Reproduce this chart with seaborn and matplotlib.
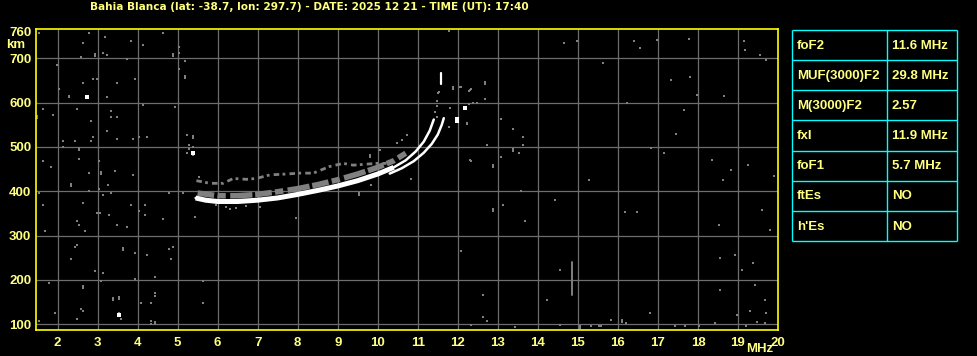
import matplotlib
matplotlib.use("Agg")
import matplotlib.pyplot as plt
import seaborn as sns
import pandas as pd

# ---------------- data ----------------
title_text = "Bahia Blanca (lat: -38.7, lon: 297.7) - DATE: 2025 12 21 - TIME (UT): 17:40"
freq_ticks = list(range(2, 21))
height_ticks = [100, 200, 300, 400, 500, 600, 700, 760]
grid_freqs = list(range(2, 20))
grid_heights = [100, 200, 300, 400, 500, 600, 700]

table_params = ["foF2", "MUF(3000)F2", "M(3000)F2", "fxI", "foF1", "ftEs", "h'Es"]
table_values = ["11.6 MHz", "29.8 MHz", "2.57", "11.9 MHz", "5.7 MHz", "NO", "NO"]

# O-mode trace (white)
o_freq = [5.45, 5.7, 6.0, 6.5, 7.0, 7.5, 8.0, 8.5, 9.0, 9.5, 10.0, 10.4, 10.7,
          10.95, 11.15, 11.3, 11.4]
o_height = [385, 380, 377, 377, 380, 385, 393, 402, 412, 424, 439, 454, 470,
            490, 512, 537, 562]
# X-mode trace (white)
x_freq = [10.3, 10.6, 10.9, 11.15, 11.35, 11.5, 11.6, 11.65]
x_height = [440, 452, 468, 487, 507, 528, 550, 565]
# top of O trace (white dash)
o_top_freq = [11.57, 11.57]
o_top_height = [641, 667]
# spread echo band just above the trace (grey)
spread_freq = [5.5, 6.0, 6.5, 7.0, 7.5, 8.0, 8.5, 9.0, 9.5, 10.0, 10.4, 10.7]
spread_height = [396, 390, 390, 393, 399, 406, 415, 426, 439, 454, 469, 486]
# weaker upper echo (grey, patchy)
echo_freq = [5.47, 5.81, 6.14, 6.39, 6.72, 6.97, 7.3, 7.72, 8.05, 8.39, 8.8,
             9.14, 9.39, 9.97, 10.22]
echo_height = [424, 418, 418, 429, 427, 429, 437, 439, 441, 441, 456,
               463, 459, 463, 463]
# vertical interference streak near 14.85 MHz
streak_freq = [14.85, 14.85]
streak_height = [167, 241]

# scattered grey noise dots
noise_freq = [
    1.53, 2.78, 3.18, 2.63, 3.83, 4.13, 4.63, 2.93, 2.93, 3.13, 3.23, 2.58, 3.73,
    4.88, 4.88, 5.03, 5.03, 5.18, 5.03, 5.18, 5.18, 1.98, 2.63, 2.88, 2.98, 3.48,
    3.93, 2.03, 2.28, 2.28, 3.23, 1.63, 1.48, 1.48, 1.88, 2.48, 3.33, 3.33, 3.48,
    2.83, 4.13, 4.93, 3.23, 2.88, 2.13, 2.43, 2.83, 3.48, 3.88, 4.03, 4.23, 2.53,
    2.53, 2.13, 5.23, 5.38, 5.38, 5.28, 5.28, 5.38, 5.23, 5.38, 1.63, 1.83, 2.53,
    3.03, 2.78, 3.08, 3.08, 3.43, 3.88, 5.53,
    2.33, 2.33, 1.53, 3.03, 2.78, 3.26, 3.13, 3.33, 1.63, 2.63, 2.99, 3.05, 3.28,
    3.83, 4.18, 4.03, 4.18, 4.78, 5.13, 5.43, 2.48, 2.53, 2.68, 1.68, 3.48, 3.73,
    4.63, 2.48, 2.43, 3.63, 3.63, 2.33, 3.93, 4.23, 4.78, 4.88, 4.83, 2.93, 3.13,
    3.93, 4.43, 1.78, 2.63, 2.63, 3.08, 3.38, 3.38, 3.53, 3.53, 4.43, 4.43, 4.08,
    4.33, 5.63, 5.63, 1.93, 2.58, 2.63, 3.53, 3.58, 1.53, 2.48, 4.33, 4.43, 4.43,
    4.33,
    11.77, 12.67, 12.67, 11.87, 11.87, 12.07, 12.32, 12.27, 12.67, 12.27, 12.37,
    12.47, 12.22, 13.07, 13.37, 13.62, 12.72, 13.37, 13.37, 13.52, 13.07, 13.62,
    12.32, 12.87, 12.87, 11.77, 10.82, 9.82, 9.52, 9.52, 7.97, 13.57, 12.87,
    12.87, 13.12, 13.67, 12.07, 12.62, 12.62, 12.72, 12.32, 13.42,
    10.47, 10.72, 10.6, 9.8, 10.05, 11.47, 11.5, 11.8, 11.88, 12.05, 12.3, 12.22,
    12.3, 11.47, 11.52, 11.47, 11.42, 9.8,
    14.65, 14.97, 16.39, 16.54, 16.97, 17.77, 19.14, 19.17, 19.54, 19.69, 15.62,
    17.32, 17.79, 17.97, 16.24, 17.64, 18.64, 16.82, 17.14, 17.44, 18.34, 18.62,
    18.82, 19.24, 19.91, 16.19, 16.47, 15.29, 14.42, 18.52, 19.59, 19.79, 18.54,
    18.92, 19.09, 19.37, 19.42, 19.67, 18.54, 18.97, 19.47, 14.55, 14.22, 15.84,
    15.54, 14.55,
    15.05, 15.05, 15.32, 15.57, 16.11, 16.11, 16.21, 16.81, 17.42, 17.67, 18.02,
    18.42, 19.21, 19.31, 19.71, 19.67,
    6.2, 6.45, 6.7, 7.05, 5.95, 6.3,
]
noise_height = [
    757, 757, 749, 735, 739, 730, 757, 710, 705, 712, 708, 703, 698,
    710, 706, 726, 712, 694, 676, 660, 655, 685, 644, 653, 653, 644,
    653, 631, 616, 612, 613, 586, 571, 566, 572, 586, 581, 568, 568,
    559, 595, 590, 536, 523, 514, 514, 514, 518, 518, 523, 523, 498,
    494, 500, 527, 525, 521, 504, 496, 500, 486, 483, 468, 455, 473,
    468, 441, 443, 438, 446, 437, 432,
    417, 412, 396, 405, 401, 414, 392, 396, 369, 374, 351, 351, 347,
    369, 369, 356, 347, 396, 396, 342, 333, 324, 310, 310, 324, 320,
    338, 279, 274, 273, 268, 247, 261, 256, 270, 274, 247, 220, 216,
    202, 207, 193, 187, 182, 198, 160, 155, 162, 157, 171, 163, 148,
    148, 198, 148, 125, 135, 130, 125, 112, 107, 112, 107, 106, 101,
    100,
    762, 647, 642, 636, 631, 635, 631, 626, 608, 597, 599,
    599, 552, 563, 541, 523, 504, 495, 490, 486, 477, 504,
    468, 459, 455, 545, 428, 414, 396, 392, 339, 401, 360,
    355, 369, 333, 265, 166, 117, 107, 98, 94,
    508, 527, 516, 478, 493, 568, 621, 587, 632, 636, 628, 553,
    471, 604, 623, 592, 579, 482,
    735, 739, 739, 723, 741, 744, 739, 719, 707, 696, 690,
    651, 658, 617, 599, 583, 615, 498, 486, 529, 471, 426,
    448, 459, 435, 353, 353, 426, 380, 324, 358, 313, 250,
    256, 222, 238, 189, 155, 177, 121, 105, 223, 155, 110,
    96, 98,
    92, 97, 95, 96, 106, 110, 104, 126, 95, 95, 95,
    104, 95, 131, 126, 104,
    365, 362, 366, 364, 369, 360,
]
# a few bright (white) dots
white_freq = [2.73, 5.38, 3.53, 12.17, 11.97, 11.97]
white_height = [613, 486, 121, 587, 563, 558]

# ---------------- style ----------------
sns.set_style("dark", {"axes.facecolor": "black", "figure.facecolor": "black"})
plt.rcParams["font.family"] = ["Liberation Sans", "DejaVu Sans"]
plt.rcParams["font.weight"] = "bold"

TXT = "#FFFF80"
YEL = "#FFFF00"
GRID = "#6E6E6E"
GREY = "#808080"
CYAN = "#00FFFF"

W, H = 978, 356
fig = plt.figure(figsize=(W / 100, H / 100), dpi=100, facecolor="black")
L, R, T, B = 35.5, 778.0, 29.3, 330.0
ax = fig.add_axes([L / W, 1 - B / H, (R - L) / W, (B - T) / H])
ax.set_facecolor("black")
ax.grid(False)

ymin, ymax = 87.1, 765.5
ax.set_xlim(1.45, 20.0)
ax.set_ylim(ymin, ymax)

# grid
ax.vlines(grid_freqs, ymin, ymax, color=GRID, lw=0.9, zorder=0)
ax.hlines(grid_heights, 1.45, 20.0, color=GRID, lw=0.9, zorder=0)

# noise
sns.scatterplot(x=noise_freq, y=noise_height, ax=ax, marker="s", s=4,
                color=GREY, linewidth=0, zorder=2, legend=False)
sns.lineplot(x=streak_freq, y=streak_height, ax=ax, color=GREY, lw=1.4,
             zorder=2, sort=False, estimator=None, legend=False)

# echoes
sns.lineplot(x=echo_freq, y=echo_height, ax=ax, color=GREY, lw=2.0,
             zorder=3, sort=False, estimator=None, legend=False,
             linestyle=(0, (2.0, 1.2, 1.0, 1.5)))
sns.lineplot(x=spread_freq, y=spread_height, ax=ax, color=GREY, lw=4.0,
             zorder=3, sort=False, estimator=None, legend=False,
             linestyle=(0, (3.0, 0.6, 1.5, 0.8, 4.0, 0.5)))

# main traces
n_low = 12
sns.lineplot(x=o_freq[:n_low], y=o_height[:n_low], ax=ax, color="white", lw=3.6,
             zorder=4, sort=False, estimator=None, legend=False,
             solid_capstyle="butt")
sns.lineplot(x=o_freq, y=o_height, ax=ax, color="white", lw=1.8,
             zorder=4, sort=False, estimator=None, legend=False)
sns.lineplot(x=x_freq, y=x_height, ax=ax, color="white", lw=1.8,
             zorder=4, sort=False, estimator=None, legend=False)
sns.lineplot(x=o_top_freq, y=o_top_height, ax=ax, color="white", lw=1.6,
             zorder=4, sort=False, estimator=None, legend=False)
sns.scatterplot(x=white_freq, y=white_height, ax=ax, marker="s", s=5,
                color="white", linewidth=0, zorder=5, legend=False)

# ticks and spines
ax.set_xticks(freq_ticks)
ax.set_xticklabels([str(v) for v in freq_ticks])
ax.set_yticks(height_ticks)
ax.set_yticklabels([str(v) for v in height_ticks])
ax.tick_params(axis="both", length=0, labelcolor=TXT, labelsize=9.5)
ax.tick_params(axis="x", pad=5)
ax.tick_params(axis="y", pad=3)
for lab in ax.get_xticklabels() + ax.get_yticklabels():
    lab.set_fontweight("bold")
for sp in ax.spines.values():
    sp.set_visible(True)
    sp.set_color(YEL)
    sp.set_linewidth(1.2)
ax.set_xlabel("")
ax.set_ylabel("")

fig.text(5.7 / W, 1 - 45.5 / H, "km", color=TXT, fontsize=9.5, fontweight="bold",
         ha="left", va="center")
fig.text(760 / W, 1 - 349 / H, "MHz", color=TXT, fontsize=9.5, fontweight="bold",
         ha="center", va="center")
fig.text(90 / W, 1 - 6.7 / H, title_text, color=TXT, fontsize=7.6,
         fontweight="bold", ha="left", va="center", family="DejaVu Sans")

# parameter table
tl, tr, tt, tb = 792, 957, 30, 241
tax = fig.add_axes([tl / W, 1 - tb / H, (tr - tl) / W, (tb - tt) / H])
tax.set_xlim(0, 1)
tax.set_ylim(len(table_params), 0)
tax.axis("off")
div = (887 - tl) / (tr - tl)
nrows = len(table_params)
tax.hlines(range(nrows + 1), 0, 1, color=CYAN, lw=1.0, clip_on=False)
tax.vlines([0, div, 1], 0, nrows, color=CYAN, lw=1.0, clip_on=False)
for i, (p, v) in enumerate(zip(table_params, table_values)):
    tax.text(0.03, i + 0.52, p, color=TXT, fontsize=9.5, fontweight="bold",
             ha="left", va="center")
    tax.text(div + 0.03, i + 0.52, v, color=TXT, fontsize=9.5, fontweight="bold",
             ha="left", va="center")

fig.savefig("out.png", dpi=100, facecolor="black")
